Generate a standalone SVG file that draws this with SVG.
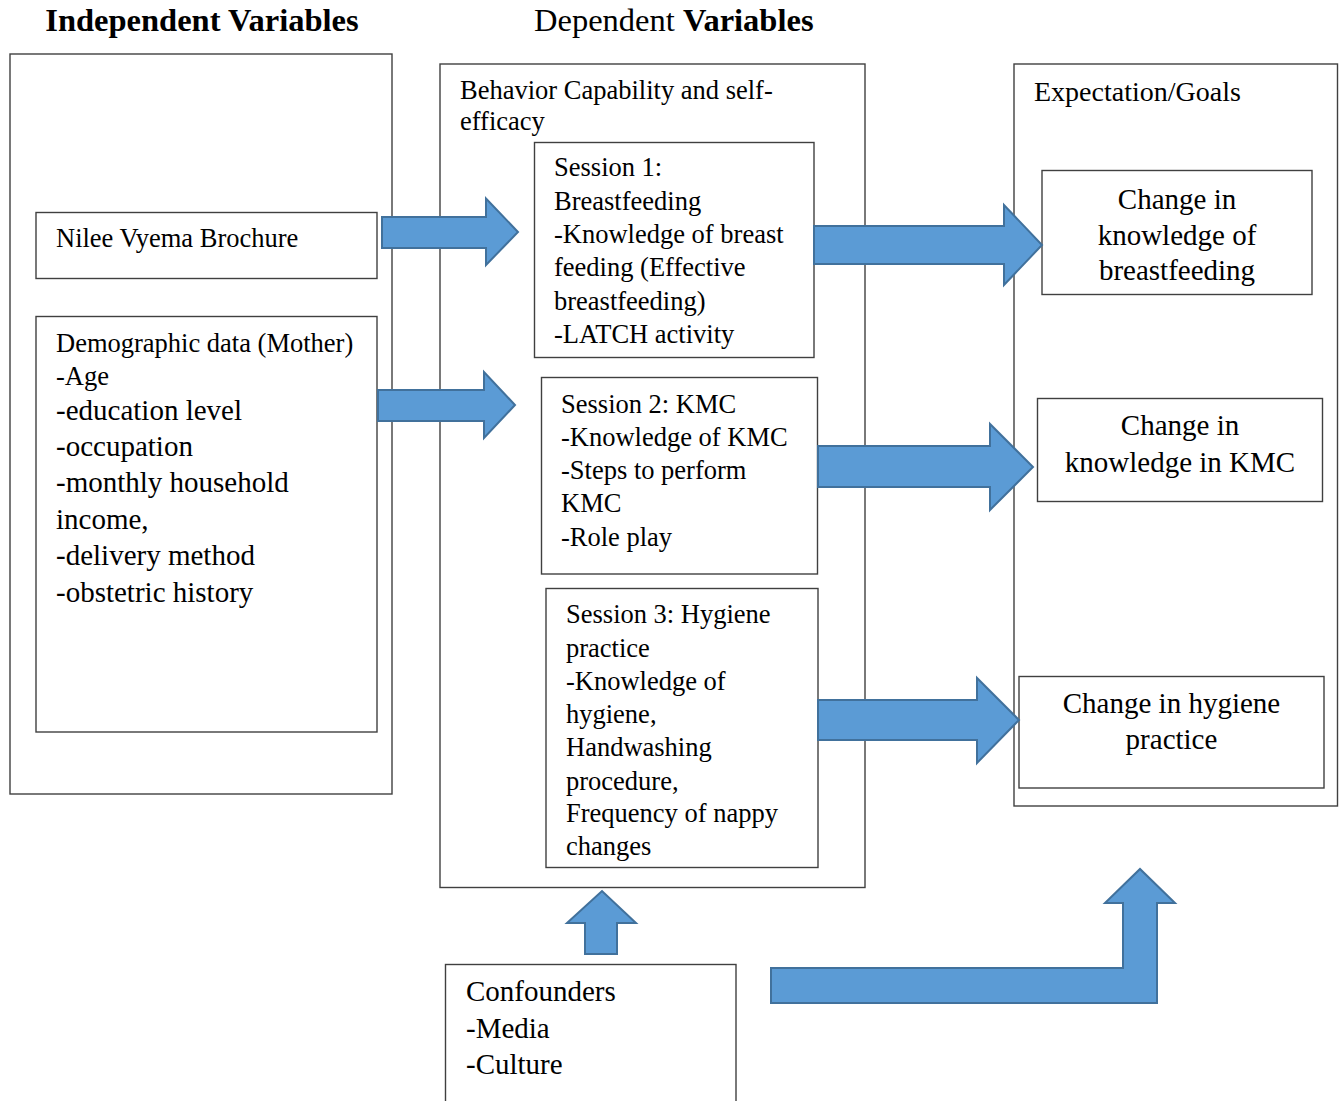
<svg xmlns="http://www.w3.org/2000/svg" width="1339" height="1101" viewBox="0 0 1339 1101">
<style>
.box{fill:#fff;stroke:#404040;stroke-width:1.4}
.t{font-family:"Liberation Serif","Times New Roman",serif;font-size:26.5px;fill:#000}
.tl{font-family:"Liberation Serif","Times New Roman",serif;font-size:29px;fill:#000}
.c{text-anchor:middle}
.hd{font-family:"Liberation Serif","Times New Roman",serif;font-size:32.5px;fill:#000}
.arr{fill:#5B9BD5;stroke:#41719C;stroke-width:2;stroke-linejoin:miter}
</style>
<rect width="1339" height="1101" fill="#fff"/>
<g id="headings">
<text class="hd" x="202" y="31" text-anchor="middle" font-weight="bold">Independent Variables</text>
<text class="hd" x="534" y="31">Dependent <tspan font-weight="bold">Variables</tspan></text>
</g>
<g id="independent">
<rect class="box" x="10" y="54" width="382" height="740"/>
</g>
<g id="nilee">
<rect class="box" x="36" y="212.5" width="341" height="66"/>
<text class="t" x="56" y="247">Nilee Vyema Brochure</text>
</g>
<g id="demographic">
<rect class="box" x="36" y="316.5" width="341" height="415.5"/>
<text class="t" x="56" y="351.5">Demographic data (Mother)</text>
<text class="t" x="56" y="385">-Age</text>
<text class="tl" x="56" y="419.5">-education level</text>
<text class="tl" x="56" y="456">-occupation</text>
<text class="tl" x="56" y="492">-monthly household</text>
<text class="tl" x="56" y="529">income,</text>
<text class="tl" x="56" y="565">-delivery method</text>
<text class="tl" x="56" y="601.5">-obstetric history</text>
</g>
<g id="behavior">
<rect class="box" x="440" y="64" width="425" height="823.5"/>
<text class="t" x="460" y="99">Behavior Capability and self-</text>
<text class="t" x="460" y="130">efficacy</text>
</g>
<g id="session1">
<rect class="box" x="534.5" y="142.5" width="279.5" height="215"/>
<text class="t" x="554" y="176">Session 1:</text>
<text class="t" x="554" y="209.5">Breastfeeding</text>
<text class="t" x="554" y="242.5">-Knowledge of breast</text>
<text class="t" x="554" y="276">feeding (Effective</text>
<text class="t" x="554" y="309.5">breastfeeding)</text>
<text class="t" x="554" y="343">-LATCH activity</text>
</g>
<g id="session2">
<rect class="box" x="541.5" y="377.5" width="276" height="196.5"/>
<text class="t" x="561" y="413">Session 2: KMC</text>
<text class="t" x="561" y="445.5">-Knowledge of KMC</text>
<text class="t" x="561" y="479">-Steps to perform</text>
<text class="t" x="561" y="511.5">KMC</text>
<text class="t" x="561" y="546">-Role play</text>
</g>
<g id="session3">
<rect class="box" x="546" y="588.5" width="272" height="279"/>
<text class="t" x="566" y="623">Session 3: Hygiene</text>
<text class="t" x="566" y="656.5">practice</text>
<text class="t" x="566" y="689.5">-Knowledge of</text>
<text class="t" x="566" y="723">hygiene,</text>
<text class="t" x="566" y="756">Handwashing</text>
<text class="t" x="566" y="789.5">procedure,</text>
<text class="t" x="566" y="822">Frequency of nappy</text>
<text class="t" x="566" y="854.5">changes</text>
</g>
<g id="expectation">
<rect class="box" x="1014" y="64" width="323.5" height="742"/>
<text class="tl" x="1034" y="101" style="font-size:28px">Expectation/Goals</text>
</g>
<g id="change-bf">
<rect class="box" x="1042" y="170.5" width="270" height="124"/>
<text class="tl c" x="1177" y="208.5">Change in</text>
<text class="tl c" x="1177" y="244.5">knowledge of</text>
<text class="tl c" x="1177" y="280">breastfeeding</text>
</g>
<g id="change-kmc">
<rect class="box" x="1037.5" y="398.5" width="285" height="103"/>
<text class="tl c" x="1180" y="435">Change in</text>
<text class="tl c" x="1180" y="471.5">knowledge in KMC</text>
</g>
<g id="change-hygiene">
<rect class="box" x="1019" y="676.5" width="305" height="111.5"/>
<text class="tl c" x="1171.5" y="713">Change in hygiene</text>
<text class="tl c" x="1171.5" y="749">practice</text>
</g>
<g id="confounders">
<rect class="box" x="445.5" y="964.5" width="290.5" height="150"/>
<text class="tl" x="466" y="1001">Confounders</text>
<text class="tl" x="466" y="1037.5">-Media</text>
<text class="tl" x="466" y="1074">-Culture</text>
</g>
<g id="connectors">
<polygon class="arr" points="382,217 486,217 486,198.5 518,232 486,265 486,248 382,248"/>
<polygon class="arr" points="814,226 1004,226 1004,205 1042,245 1004,285 1004,264 814,264"/>
<polygon class="arr" points="378,390 484,390 484,372 515,405 484,438 484,421 378,421"/>
<polygon class="arr" points="818,446 990,446 990,424 1033,467 990,510 990,487 818,487"/>
<polygon class="arr" points="818,700 977,700 977,678 1019,720 977,763 977,740 818,740"/>
<polygon class="arr" points="585,954 585,923 567,923 602,891 636,923 617,923 617,954"/>
<polygon class="arr" points="771,968 1123,968 1123,903 1105,903 1140,869 1175,903 1157,903 1157,1003 771,1003"/>
</g>
</svg>
